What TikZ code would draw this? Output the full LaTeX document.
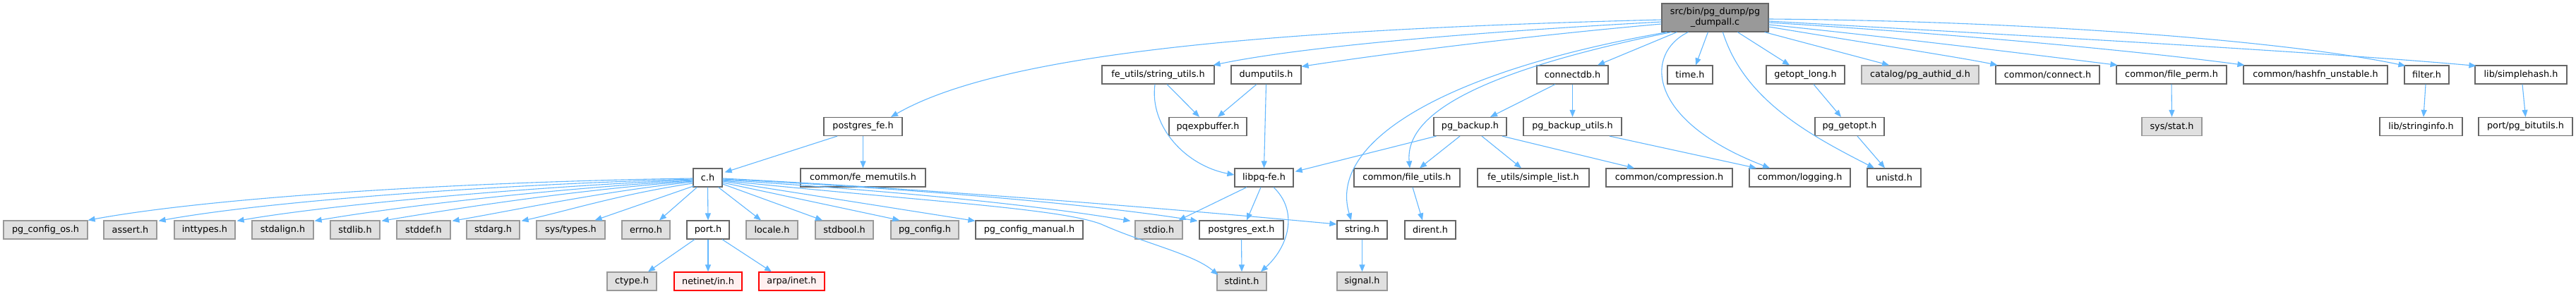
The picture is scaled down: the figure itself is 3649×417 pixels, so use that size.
\documentclass[tikz,border=0pt]{standalone}
\usepackage{fontspec}
\setmainfont{DejaVu Sans}
\usetikzlibrary{arrows.meta,calc}
\definecolor{edgec}{HTML}{63B8FF}
\definecolor{bdark}{HTML}{666666}
\definecolor{bgray}{HTML}{999999}
\definecolor{fgray}{HTML}{E0E0E0}
\definecolor{fpink}{HTML}{FFF0F0}
\definecolor{ftop}{HTML}{999999}
\begin{document}
\begin{tikzpicture}[x=1pt,y=-1pt,
  box/.style={draw=bdark, fill=white, line width=1.2pt, minimum height=26pt, inner sep=0pt,
    font=\fontsize{12.8}{15}\selectfont, text=black},
  sys/.style={box, draw=bgray, fill=fgray},
  missing/.style={box, draw=red, fill=fpink},
  topbox/.style={box, fill=ftop, minimum height=40pt, align=center},
  e/.style={draw=edgec, line width=1.1pt, -{Triangle[length=10pt,width=8pt]}}]
\fill[white] (0,0) rectangle (3649,417);
\useasboundingbox (0,0) rectangle (3649,417);
% row 0
\node[topbox, minimum width=151] (top) at (2429.5,25) {src/bin/pg\_dump/pg\\\_dumpall.c};
% row 1
\node[box, minimum width=159] (sfu) at (1640.5,106) {fe\_utils/string\_utils.h};
\node[box, minimum width=99] (dmp) at (1793.5,106) {dumputils.h};
\node[box, minimum width=101] (cdb) at (2227.5,106) {connectdb.h};
\node[box, minimum width=64] (tim) at (2394,106) {time.h};
\node[box, minimum width=111] (gol) at (2557.5,106) {getopt\_long.h};
\node[sys, minimum width=166] (pad) at (2720,106) {catalog/pg\_authid\_d.h};
\node[box, minimum width=147] (con) at (2900.5,106) {common/connect.h};
\node[box, minimum width=156] (fpm) at (3076,106) {common/file\_perm.h};
\node[box, minimum width=204] (hfn) at (3280,106) {common/hashfn\_unstable.h};
\node[box, minimum width=63] (flt) at (3437.5,106) {filter.h};
\node[box, minimum width=130] (shs) at (3571,106) {lib/simplehash.h};
% row 2
\node[box, minimum width=111] (pfe) at (1222.5,179.5) {postgres\_fe.h};
\node[box, minimum width=110] (pqe) at (1711,179.5) {pqexpbuffer.h};
\node[box, minimum width=103] (pgb) at (2082.5,179.5) {pg\_backup.h};
\node[box, minimum width=139] (pbu) at (2227.5,179.5) {pg\_backup\_utils.h};
\node[box, minimum width=98] (pgo) at (2620,179.5) {pg\_getopt.h};
\node[sys, minimum width=85] (sst) at (3076.5,179.5) {sys/stat.h};
\node[box, minimum width=117] (lsi) at (3429.5,179.5) {lib/stringinfo.h};
\node[box, minimum width=133] (pbt) at (3577.5,179.5) {port/pg\_bitutils.h};
% row 3
\node[box, minimum width=41] (ch) at (1002.5,252) {c.h};
\node[box, minimum width=177] (fmu) at (1222.5,252) {common/fe\_memutils.h};
\node[box, minimum width=83] (lpq) at (1790.5,252) {libpq-fe.h};
\node[box, minimum width=150] (cfu) at (1993,252) {common/file\_utils.h};
\node[box, minimum width=158] (fsl) at (2172,252) {fe\_utils/simple\_list.h};
\node[box, minimum width=179] (cmp) at (2364.5,252) {common/compression.h};
\node[box, minimum width=143] (log) at (2549.5,252) {common/logging.h};
\node[box, minimum width=76] (uni) at (2683,252) {unistd.h};
% row 4
\node[sys, minimum width=119] (pco) at (64.5,326) {pg\_config\_os.h};
\node[sys, minimum width=75] (ast) at (184.5,326) {assert.h};
\node[sys, minimum width=86] (itt) at (290,326) {inttypes.h};
\node[sys, minimum width=87] (sal) at (400.5,326) {stdalign.h};
\node[sys, minimum width=70] (slb) at (503,326) {stdlib.h};
\node[sys, minimum width=76] (sdf) at (600,326) {stddef.h};
\node[sys, minimum width=75] (sag) at (698.5,326) {stdarg.h};
\node[sys, minimum width=97] (sty) at (808.5,326) {sys/types.h};
\node[sys, minimum width=68] (ern) at (915,326) {errno.h};
\node[box, minimum width=60] (prt) at (1003,326) {port.h};
\node[sys, minimum width=73] (loc) at (1093.5,326) {locale.h};
\node[sys, minimum width=82] (sbl) at (1196,326) {stdbool.h};
\node[sys, minimum width=96] (pgc) at (1310,326) {pg\_config.h};
\node[box, minimum width=152] (pcm) at (1458,326) {pg\_config\_manual.h};
\node[sys, minimum width=67] (sio) at (1641.5,326) {stdio.h};
\node[box, minimum width=119] (pex) at (1758.5,326) {postgres\_ext.h};
\node[box, minimum width=71] (str) at (1929.5,326) {string.h};
\node[box, minimum width=72] (dir) at (2026,326) {dirent.h};
% row 5
\node[sys, minimum width=70] (cty) at (895,399) {ctype.h};
\node[missing, minimum width=96] (nin) at (1003,399) {netinet/in.h};
\node[missing, minimum width=93] (ain) at (1121.5,399) {arpa/inet.h};
\node[sys, minimum width=70] (sdi) at (1759,399) {stdint.h};
\node[sys, minimum width=71] (sig) at (1929.5,399) {signal.h};
% edges from top
\draw[e] ($(top.west)+(0,3)$) .. controls (1800,42) and (1420,75) .. ($(pfe.north)+(39.5,0)$);
\draw[e] ($(top.west)+(0,6)$) .. controls (2100,45) and (1850,65) .. ($(sfu.north east)+(-2,0)$);
\draw[e] ($(top.west)+(0,9)$) .. controls (2150,52) and (1950,78) .. ($(dmp.north east)+(0,2)$);
\draw[e] ($(top.south west)+(8,0)$) .. controls (2050,100) and (1880,200) .. ($(str.north)+(-15.5,0)$);
\draw[e] ($(top.south west)+(14,0)$) .. controls (2100,100) and (1990,160) .. ($(cfu.north)+(4,0)$);
\draw[e] ($(top.south west)+(22,0)$) -- ($(cdb.north)+(35.5,0)$);
\draw[e] ($(top.south west)+(38,0)$) .. controls (2330,75) and (2330,170) .. ($(log.north)+(-42.5,0)$);
\draw[e] ($(top.south west)+(66,0)$) -- ($(tim.north)+(8,0)$);
\draw[e] ($(top.south west)+(87,0)$) .. controls (2470,140) and (2560,190) .. ($(uni.north)+(-28,0)$);
\draw[e] ($(top.south west)+(108,0)$) -- ($(gol.north)+(-22.5,0)$);
\draw[e] ($(top.south east)+(-6,0)$) -- ($(pad.north)+(-44,0)$);
\draw[e] ($(top.east)+(0,13)$) .. controls (2650,62) and (2780,82) .. ($(con.north west)+(3,0)$);
\draw[e] ($(top.east)+(0,10)$) .. controls (2700,55) and (2900,80) .. ($(fpm.north west)+(2,0)$);
\draw[e] ($(top.east)+(0,7)$) .. controls (2800,50) and (3050,75) .. ($(hfn.north west)+(2,0)$);
\draw[e] ($(top.east)+(0,2)$) .. controls (2900,30) and (3250,60) .. ($(flt.north west)+(2,1)$);
\draw[e] ($(top.east)+(0,5)$) .. controls (2950,55) and (3300,75) .. ($(shs.north west)+(2,1)$);
% row1 -> row2/3
\draw[e] ($(sfu.south)+(12.5,0)$) -- ($(pqe.north)+(-12,0)$);
\draw[e] ($(sfu.south)+(-4.5,0)$) .. controls (1628,180) and (1680,235) .. ($(lpq.west)+(0,-4)$);
\draw[e] ($(dmp.south)+(-13.5,0)$) -- ($(pqe.north)+(14,0)$);
\draw[e] (dmp.south) -- (lpq.north);
\draw[e] ($(cdb.south)+(-24.5,0)$) -- ($(pgb.north)+(28.5,0)$);
\draw[e] (cdb.south) -- (pbu.north);
\draw[e] ($(pgb.south west)+(4,0)$) -- ($(lpq.north east)+(2,5)$);
\draw[e] ($(pgb.south)+(-14.5,0)$) -- ($(cfu.north)+(18,0)$);
\draw[e] ($(pgb.south)+(16.5,0)$) -- ($(fsl.north)+(-17,0)$);
\draw[e] ($(pgb.south)+(45.5,0)$) -- ($(cmp.north)+(-49.5,0)$);
\draw[e] ($(pbu.south)+(52.5,0)$) -- ($(log.north)+(-61.5,0)$);
\draw[e] ($(gol.south)+(11.5,0)$) -- ($(pgo.north)+(-12,0)$);
\draw[e] ($(pgo.south)+(11,0)$) -- ($(uni.north)+(-13,0)$);
\draw[e] (fpm.south) -- (sst.north);
\draw[e] ($(flt.south)+(-1.5,0)$) -- ($(lsi.north)+(3.5,0)$);
\draw[e] ($(shs.south)+(2,0)$) -- (pbt.north);
\draw[e] ($(pfe.south)+(-36.5,0)$) -- ($(ch.north east)+(3,6)$);
\draw[e] (pfe.south) -- (fmu.north);
% c.h edges
\draw[e] ($(ch.west)+(0,1)$) .. controls (650,258) and (300,280) .. (pco.north east);
\draw[e] ($(ch.west)+(0,2)$) .. controls (700,262) and (380,285) .. ($(ast.north east)+(2,1)$);
\draw[e] ($(ch.west)+(0,3)$) .. controls (750,265) and (470,290) .. ($(itt.north east)+(2,1)$);
\draw[e] ($(ch.west)+(0,4)$) .. controls (780,268) and (570,292) .. ($(sal.north east)+(1,1)$);
\draw[e] ($(ch.west)+(0,5)$) .. controls (810,270) and (650,295) .. ($(slb.north east)+(2,1)$);
\draw[e] ($(ch.west)+(0,6)$) .. controls (850,272) and (730,298) .. ($(sdf.north east)+(2,1)$);
\draw[e] ($(ch.west)+(0,8)$) .. controls (880,275) and (800,300) .. ($(sag.north east)+(2,1)$);
\draw[e] ($(ch.south west)+(2,-2)$) -- ($(sty.north east)+(-15,0)$);
\draw[e] ($(ch.south west)+(6,0)$) -- ($(ern.north)+(19,0)$);
\draw[e] (ch.south) -- (prt.north);
\draw[e] ($(ch.south east)+(-6,0)$) -- ($(loc.north)+(-15.5,0)$);
\draw[e] ($(ch.east)+(0,9)$) -- ($(sbl.north)+(-31,0)$);
\draw[e] ($(ch.east)+(0,7)$) -- ($(pgc.north west)+(13,0)$);
\draw[e] ($(ch.east)+(0,5)$) -- ($(pcm.north west)+(0,1)$);
\draw[e] ($(ch.east)+(0,3)$) .. controls (1250,270) and (1450,288) .. ($(sio.north west)+(-6,1)$);
\draw[e] ($(ch.east)+(0,2)$) .. controls (1300,268) and (1550,290) .. ($(pex.north west)+(-2,1)$);
\draw[e] ($(ch.east)+(0,1)$) .. controls (1350,270) and (1700,300) .. ($(str.west)+(0,-8)$);
\draw[e] ($(ch.east)+(0,4)$) .. controls (1300,285) and (1500,295) .. (1560,318) .. controls (1620,345) and (1690,360) .. ($(sdi.west)+(2,-9)$);
% lower edges
\draw[e] ($(lpq.south)+(-24.5,0)$) -- ($(sio.north east)+(-6,0)$);
\draw[e] ($(lpq.south)+(-4.5,0)$) -- ($(pex.north)+(7.5,0)$);
\draw[e] ($(lpq.south)+(13.5,0)$) .. controls (1840,300) and (1825,350) .. ($(sdi.north)+(27,0)$);
\draw[e] (pex.south) -- (sdi.north);
\draw[e] (str.south) -- (sig.north);
\draw[e] ($(cfu.south)+(8,0)$) -- ($(dir.north)+(-11,0)$);
\draw[e] ($(prt.south)+(-19,0)$) -- ($(cty.north)+(23,0)$);
\draw[e] (prt.south) -- (nin.north);
\draw[e] ($(prt.south)+(20,0)$) -- ($(ain.north)+(-28.5,0)$);
\end{tikzpicture}
\end{document}
